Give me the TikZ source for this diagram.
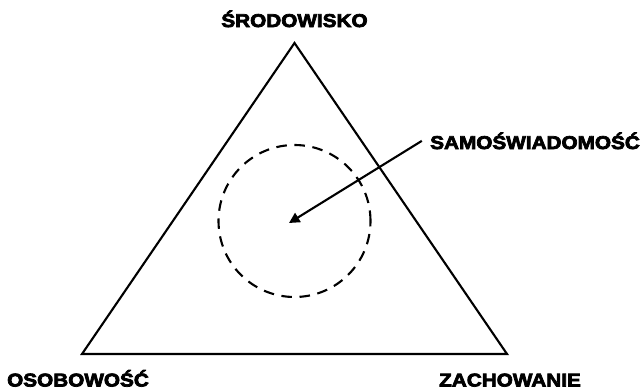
\documentclass[tikz,border=0pt]{standalone}
\usepackage{fontspec}
\setmainfont{Liberation Sans}[FakeBold=4, FakeStretch=1.12]
\usetikzlibrary{arrows.meta}

\tikzset{
    edge/.style={line width=1.8pt, line join=miter},
    corner/.style={font=\bfseries\fontsize{15.8}{18}\selectfont, inner sep=0pt, anchor=base}
}

\begin{document}
\begin{tikzpicture}[x=0.03cm, y=-0.03cm]
        \useasboundingbox (0, 0) rectangle (641, 390);
        % triangle
        \coordinate (top) at (294.5, 43);
        \coordinate (left) at (82, 354);
        \coordinate (right) at (507, 354);
        \draw[edge] (top) -- (left) -- (right) -- cycle;
        % labels
        \node[corner] (env) at (294.5, 27) {ŚRODOWISKO};
        \node[corner] (pers) at (78, 386.5) {OSOBOWOŚĆ};
        \node[corner] (beh) at (510, 386.5) {ZACHOWANIE};
        \node[corner, anchor=base west] (self) at (430, 149) {SAMOŚWIADOMOŚĆ};
        % inner circle
        \draw[line width=1.8pt, dash pattern=on 9pt off 6.5pt] (294.5, 221) circle[radius=2.28cm];
        \coordinate (tip) at (289, 223);
        \draw[line width=1.8pt, -{Triangle[length=9pt, width=9pt]}]
            ([xshift=-7pt]self.west) -- (tip);
    \end{tikzpicture}
\end{document}
